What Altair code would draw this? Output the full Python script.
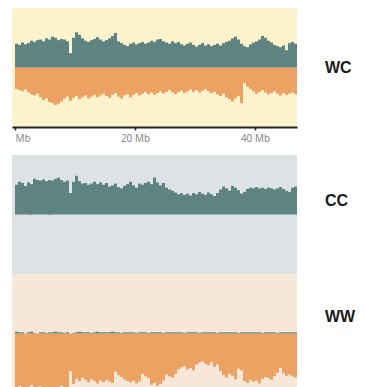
import altair as alt
import pandas as pd

# 0.5 Mb bins, 0 .. 47 Mb
bin_mb = 0.5
starts = [i * bin_mb for i in range(94)]

wc_teal = [0.40, 0.38, 0.42, 0.39, 0.41, 0.45, 0.43, 0.46, 0.47, 0.44,
           0.49, 0.47, 0.52, 0.50, 0.46, 0.48, 0.47, 0.44, 0.24, 0.50,
           0.59, 0.55, 0.49, 0.45, 0.43, 0.46, 0.48, 0.51, 0.47, 0.44,
           0.46, 0.49, 0.53, 0.58, 0.44, 0.41, 0.38, 0.36, 0.40, 0.42,
           0.39, 0.41, 0.43, 0.40, 0.42, 0.45, 0.43, 0.47, 0.48, 0.44,
           0.42, 0.40, 0.44, 0.41, 0.43, 0.39, 0.37, 0.40, 0.42, 0.38,
           0.35, 0.38, 0.41, 0.37, 0.39, 0.36, 0.38, 0.40, 0.37, 0.41,
           0.43, 0.45, 0.49, 0.52, 0.47, 0.40, 0.36, 0.34, 0.39, 0.42,
           0.44, 0.47, 0.53, 0.50, 0.45, 0.42, 0.38, 0.36, 0.34, 0.37,
           0.29, 0.41, 0.43, 0.40]
wc_orange = [0.36, 0.38, 0.40, 0.37, 0.42, 0.45, 0.47, 0.44, 0.50, 0.55,
             0.52, 0.58, 0.60, 0.63, 0.61, 0.57, 0.52, 0.49, 0.56, 0.51,
             0.48, 0.53, 0.50, 0.47, 0.52, 0.49, 0.46, 0.50, 0.47, 0.44,
             0.48, 0.51, 0.46, 0.43, 0.49, 0.52, 0.47, 0.45, 0.50, 0.46,
             0.43, 0.47, 0.44, 0.41, 0.45, 0.42, 0.46, 0.43, 0.40, 0.44,
             0.41, 0.38, 0.42, 0.45, 0.41, 0.39, 0.43, 0.40, 0.37, 0.41,
             0.38, 0.42, 0.39, 0.36, 0.40, 0.43, 0.41, 0.45, 0.48, 0.44,
             0.50, 0.53, 0.57, 0.52, 0.48, 0.60, 0.26, 0.32, 0.36, 0.40,
             0.44, 0.41, 0.38, 0.42, 0.45, 0.43, 0.40, 0.44, 0.47, 0.43,
             0.46, 0.44, 0.42, 0.45]
cc_teal = [0.50, 0.55, 0.53, 0.48, 0.54, 0.51, 0.60, 0.58, 0.57, 0.59,
           0.56, 0.58, 0.57, 0.60, 0.62, 0.58, 0.55, 0.57, 0.36, 0.55,
           0.65, 0.56, 0.52, 0.53, 0.50, 0.52, 0.55, 0.51, 0.54, 0.50,
           0.53, 0.47, 0.49, 0.52, 0.46, 0.44, 0.48, 0.51, 0.55, 0.49,
           0.45, 0.52, 0.50, 0.53, 0.55, 0.51, 0.62, 0.54, 0.49, 0.53,
           0.45, 0.42, 0.40, 0.37, 0.34, 0.36, 0.33, 0.35, 0.32, 0.36,
           0.34, 0.38, 0.35, 0.33, 0.37, 0.34, 0.31, 0.36, 0.42, 0.47,
           0.44, 0.40, 0.48, 0.45, 0.41, 0.35, 0.38, 0.43, 0.45, 0.44,
           0.46, 0.44, 0.45, 0.43, 0.45, 0.44, 0.42, 0.44, 0.46, 0.43,
           0.40, 0.38, 0.45, 0.47]
cc_orange = [0.01, 0.0, 0.0, 0.0, 0.01, 0.01, 0.0, 0.0, 0.0, 0.0,
             0.0, 0.01, 0.0, 0.0, 0.0, 0.0, 0.0, 0.0, 0.0, 0.0,
             0.0, 0.0, 0.0, 0.0, 0.0, 0.0, 0.0, 0.0, 0.0, 0.0,
             0.0, 0.0, 0.0, 0.0, 0.0, 0.0, 0.0, 0.0, 0.0, 0.0,
             0.0, 0.0, 0.0, 0.0, 0.0, 0.0, 0.0, 0.0, 0.0, 0.0,
             0.0, 0.0, 0.0, 0.0, 0.0, 0.0, 0.0, 0.0, 0.0, 0.0,
             0.0, 0.0, 0.0, 0.0, 0.0, 0.0, 0.0, 0.0, 0.0, 0.0,
             0.0, 0.0, 0.0, 0.0, 0.0, 0.0, 0.0, 0.0, 0.0, 0.0,
             0.0, 0.0, 0.0, 0.0, 0.0, 0.0, 0.0, 0.0, 0.0, 0.0,
             0.0, 0.0, 0.0, 0.0]
ww_teal = [0.03, 0.02, 0.02, 0.0, 0.02, 0.03, 0.01, 0.0, 0.02, 0.02,
           0.01, 0.02, 0.02, 0.03, 0.02, 0.02, 0.01, 0.02, 0.0, 0.01,
           0.02, 0.03, 0.02, 0.02, 0.02, 0.01, 0.02, 0.03, 0.02, 0.02,
           0.02, 0.02, 0.03, 0.02, 0.02, 0.01, 0.02, 0.02, 0.02, 0.02,
           0.01, 0.02, 0.02, 0.02, 0.01, 0.02, 0.02, 0.02, 0.02, 0.01,
           0.02, 0.02, 0.02, 0.02, 0.02, 0.02, 0.01, 0.02, 0.02, 0.02,
           0.02, 0.01, 0.02, 0.02, 0.02, 0.02, 0.02, 0.01, 0.02, 0.02,
           0.02, 0.02, 0.02, 0.02, 0.01, 0.02, 0.02, 0.02, 0.02, 0.02,
           0.02, 0.02, 0.01, 0.02, 0.02, 0.02, 0.02, 0.01, 0.02, 0.02,
           0.02, 0.02, 0.02, 0.02]
ww_orange = [0.95, 0.88, 0.96, 0.90, 0.93, 0.87, 0.94, 0.97, 0.89, 0.92,
             0.95, 0.90, 0.93, 0.96, 0.91, 0.88, 0.94, 0.90, 0.63, 0.85,
             0.76, 0.80, 0.74, 0.78, 0.82, 0.77, 0.80, 0.84, 0.79, 0.82,
             0.78, 0.81, 0.83, 0.64, 0.70, 0.73, 0.77, 0.80, 0.82, 0.79,
             0.84, 0.81, 0.68, 0.72, 0.75, 0.86, 0.83, 0.88, 0.85, 0.79,
             0.69, 0.72, 0.74, 0.68, 0.60, 0.57, 0.55, 0.60, 0.58, 0.62,
             0.52, 0.49, 0.47, 0.51, 0.53, 0.48, 0.56, 0.52, 0.63, 0.70,
             0.74, 0.68, 0.71, 0.77, 0.59, 0.62, 0.80, 0.83, 0.78, 0.81,
             0.79, 0.84, 0.76, 0.73, 0.75, 0.78, 0.72, 0.66, 0.58, 0.67,
             0.71, 0.69, 0.72, 0.74]

panels = ["WC", "CC", "WW"]
backgrounds = ["#FCF2CB", "#DDE2E4", "#F6E7D9"]
tick_values = [0, 20, 40]

TEAL = "#5E8381"
ORANGE = "#ECA262"
W, H = 285, 119
x_scale = alt.Scale(domain=[-0.5, 47], nice=False, zero=False)
y_scale = alt.Scale(domain=[-1, 1], nice=False)


def make_df(teal, orange):
    return pd.DataFrame({
        "start": starts,
        "end": [s + bin_mb for s in starts],
        "teal": teal,
        "orange": [-v for v in orange],
        "zero": [0.0] * len(starts),
    })


def panel(name, teal, orange, bg, show_axis, label_y):
    df = make_df(teal, orange)
    if show_axis:
        xaxis = alt.Axis(
            values=tick_values,
            labelExpr="datum.value == 0 ? 'Mb' : datum.label + ' Mb'",
            labelFlush=4,
            grid=False, domainColor="#222222", domainWidth=2,
            tickColor="#222222", tickSize=3, tickWidth=1.5,
            labelColor="#8a8a8a", labelFont="Noto Sans", labelFontSize=10,
            labelPadding=3, title=None,
        )
    else:
        xaxis = None
    base = alt.Chart(df)
    teal_bars = base.mark_bar(color=TEAL).encode(
        x=alt.X("start:Q", scale=x_scale, axis=xaxis),
        x2="end:Q",
        y=alt.Y("teal:Q", scale=y_scale, axis=None),
        y2="zero:Q",
    )
    orange_bars = base.mark_bar(color=ORANGE).encode(
        x=alt.X("start:Q", scale=x_scale, axis=xaxis),
        x2="end:Q",
        y=alt.Y("orange:Q", scale=y_scale, axis=None),
        y2="zero:Q",
    )
    label = base.mark_text(
        align="left", baseline="middle", font="Liberation Sans",
        fontWeight="bold", fontSize=16, color="#1a1a1a",
    ).encode(text=alt.value(name), x=alt.value(313), y=alt.value(label_y)).transform_filter(
        "datum.start == 0"
    )
    return alt.layer(orange_bars, teal_bars, label).properties(
        width=W, height=H, view=alt.ViewBackground(fill=bg)
    )


wc = panel("WC", wc_teal, wc_orange, backgrounds[0], True, 60)
cc = panel("CC", cc_teal, cc_orange, backgrounds[1], False, 46)
ww = panel("WW", ww_teal, ww_orange, backgrounds[2], False, 43)

chart = alt.vconcat(
    wc, alt.vconcat(cc, ww, spacing=0), spacing=12
).properties(
    padding={"left": 12, "top": 8, "right": 0, "bottom": 0},
    background="#FFFFFF",
).configure_view(strokeWidth=0)

chart.save("out.html", embed_options={"renderer": "svg", "actions": False})
